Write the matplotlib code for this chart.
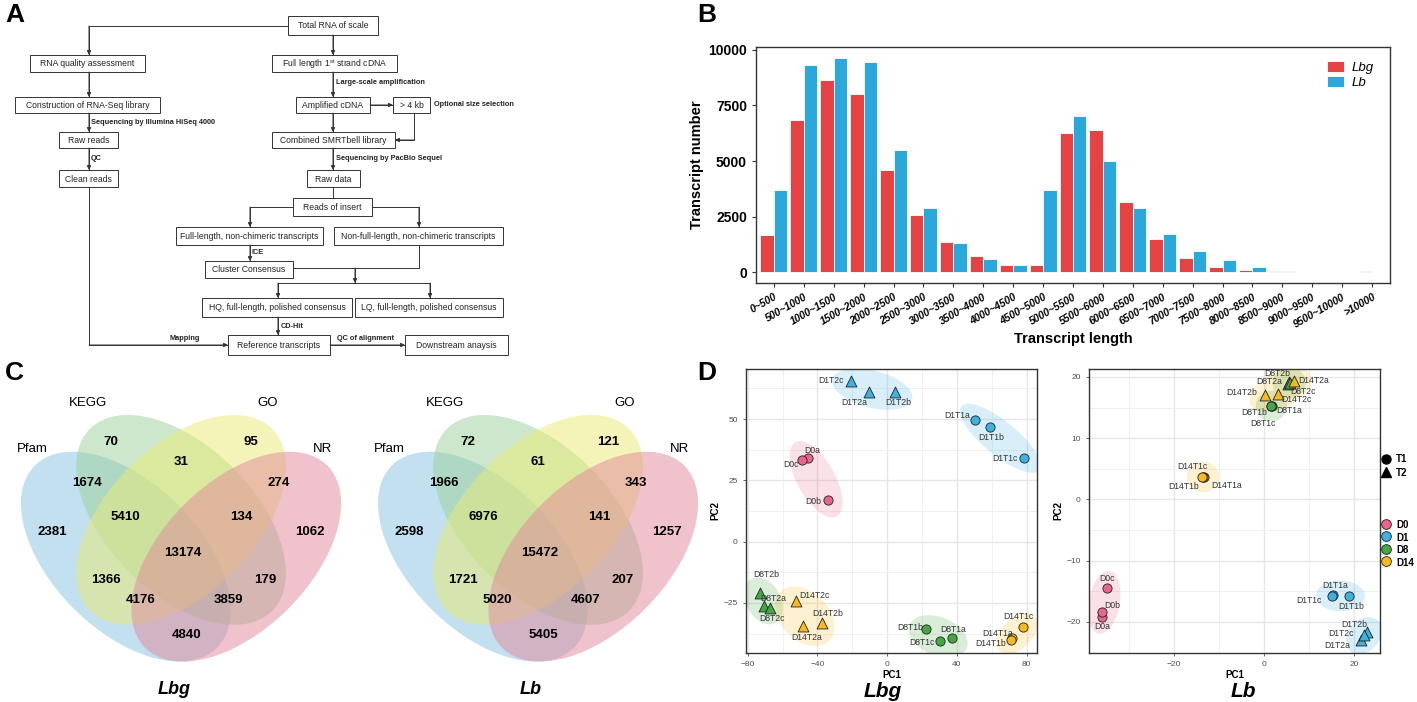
import numpy as np
import matplotlib
matplotlib.use('Agg')
import matplotlib.pyplot as plt
from matplotlib.patches import Ellipse, Rectangle, Polygon
from matplotlib.lines import Line2D

plt.rcParams['font.family'] = ['Liberation Sans', 'DejaVu Sans']
plt.rcParams['mathtext.fontset'] = 'custom'
plt.rcParams['mathtext.rm'] = 'Liberation Sans'

W, H = 1417, 702

# ---------------- B: transcript length distribution
length_bins = ['0~500', '500~1000', '1000~1500', '1500~2000', '2000~2500', '2500~3000',
               '3000~3500', '3500~4000', '4000~4500', '4500~5000', '5000~5500', '5500~6000',
               '6000~6500', '6500~7000', '7000~7500', '7500~8000', '8000~8500', '8500~9000',
               '9000~9500', '9500~10000', '>10000']
lbg_counts = [1700, 6850, 8650, 8000, 4600, 2570, 1380, 720, 350, 310, 6280, 6400,
              3180, 1520, 640, 260, 110, 50, 20, 15, 40]
lb_counts = [3720, 9300, 9620, 9470, 5480, 2880, 1300, 580, 350, 3700, 7020, 5020,
             2880, 1740, 960, 540, 230, 80, 30, 25, 30]

# ---------------- C: venn counts
venn_sets = ['Pfam', 'KEGG', 'GO', 'NR']
venn_regions = ['KEGG', 'GO', 'KEGG&GO', 'Pfam&KEGG', 'GO&NR', 'Pfam&KEGG&GO', 'KEGG&GO&NR',
                'Pfam', 'NR', 'all', 'Pfam&GO', 'KEGG&NR', 'Pfam&GO&NR', 'Pfam&KEGG&NR', 'Pfam&NR']
lbg_venn = [70, 95, 31, 1674, 274, 5410, 134, 2381, 1062, 13174, 1366, 179, 4176, 3859, 4840]
lb_venn = [72, 121, 61, 1966, 343, 6976, 141, 2598, 1257, 15472, 1721, 207, 5020, 4607, 5405]

# ---------------- D: PCA scores
samples = ['D0a', 'D0b', 'D0c', 'D1T1a', 'D1T1b', 'D1T1c', 'D1T2a', 'D1T2b', 'D1T2c',
           'D8T1a', 'D8T1b', 'D8T1c', 'D8T2a', 'D8T2b', 'D8T2c',
           'D14T1a', 'D14T1b', 'D14T1c', 'D14T2a', 'D14T2b', 'D14T2c']
lbg_pc1 = [-45.3, -34.2, -49.1, 50.7, 58.8, 78.3, -10.3, 4.5, -20.7,
           37.4, 22.5, 30.6, -70.5, -73.0, -67.5, 71.9, 71.1, 77.8, -48.4, -37.2, -52.2]
lbg_pc2 = [34.1, 16.9, 33.3, 49.6, 46.6, 34.0, 61.2, 60.9, 65.6,
           -39.4, -35.6, -40.6, -26.3, -20.9, -26.9, -39.4, -39.9, -35.0, -34.2, -33.1, -24.1]
lb_pc1 = [-36.0, -36.0, -34.9, 15.3, 18.8, 15.2, 21.6, 23.0, 22.2,
          1.8, 1.5, 1.6, 5.3, 5.6, 5.9, -13.3, -13.6, -13.8, 6.6, 0.2, 3.1]
lb_pc2 = [-19.2, -18.4, -14.5, -15.7, -15.8, -15.8, -22.9, -21.7, -22.2,
          15.3, 15.3, 15.2, 18.9, 19.1, 19.0, 3.7, 3.6, 3.7, 19.4, 17.1, 17.2]
days = ['D0', 'D1', 'D8', 'D14']
day_colors = ['#E8668B', '#3CB2E2', '#43A843', '#F7BA1E']

# label offsets in pixels (dx, dy up)
lbg_lab = {'D1T2c': (-20, 0), 'D1T2a': (-15, -11), 'D1T2b': (3, -10), 'D1T1a': (-18, 5),
           'D1T1b': (2, -10), 'D1T1c': (-19, 0), 'D0a': (4, 8), 'D0c': (-11, -5), 'D0b': (-14, -1),
           'D8T2b': (6, 18), 'D8T2a': (9, 8), 'D8T2c': (2, -11), 'D14T2c': (18, 5),
           'D14T2a': (4, -12), 'D14T2b': (5, 9), 'D8T1b': (-16, 1), 'D8T1c': (-19, -1),
           'D8T1a': (1, 9), 'D14T1c': (-4, 11), 'D14T1a': (-15, 5), 'D14T1b': (-20, -4)}
lb_lab = {'D8T2b': (-12, 9), 'D8T2a': (-19, 2), 'D14T2a': (20, 0), 'D8T2c': (13, -8),
          'D14T2b': (-23, 2), 'D14T2c': (19, -5), 'D8T1a': (17, -5), 'D8T1b': (-17, -7),
          'D8T1c': (-8, -17), 'D14T1c': (-10, 10), 'D14T1b': (-19, -9), 'D14T1a': (22, -9),
          'D0c': (0, 10), 'D0b': (10, 6), 'D0a': (0, -10), 'D1T1a': (2, 10), 'D1T1c': (-23, -4),
          'D1T1b': (3, -10), 'D1T2b': (-13, 8), 'D1T2c': (-23, 2), 'D1T2a': (-24, -6)}

fig = plt.figure(figsize=(W / 100, H / 100), dpi=100)

# ---------------- overlay axes: flowchart + panel letters
ax0 = fig.add_axes([0, 0, 1, 1])
ax0.set_xlim(0, W)
ax0.set_ylim(H, 0)
ax0.axis('off')

boxes = [
    (288, 16, 378, 35, 'Total RNA of scale'),
    (30, 55, 145, 72, 'RNA quality assessment'),
    (272, 55, 397, 72, 'Full length 1$^{\\mathrm{st}}$ strand cDNA'),
    (15, 97, 160, 113, 'Construction of RNA-Seq library'),
    (296, 97, 370, 113, 'Amplified cDNA'),
    (393, 97, 430, 113, '> 4 kb'),
    (59, 132, 118, 148, 'Raw reads'),
    (272, 132, 395, 148, 'Combined SMRTbell library'),
    (59, 170, 118, 187, 'Clean reads'),
    (307, 170, 360, 187, 'Raw data'),
    (293, 198, 372, 216, 'Reads of insert'),
    (176, 227, 323, 245, 'Full-length, non-chimeric transcripts'),
    (334, 227, 503, 245, 'Non-full-length, non-chimeric transcripts'),
    (205, 261, 293, 278, 'Cluster Consensus'),
    (202, 298, 352, 317, 'HQ, full-length, polished consensus'),
    (355, 298, 503, 317, 'LQ, full-length, polished consensus'),
    (228, 335, 330, 355, 'Reference transcripts'),
    (405, 335, 508, 355, 'Downstream anaysis'),
]
for x0, y0, x1, y1, t in boxes:
    ax0.add_patch(Rectangle((x0, y0), x1 - x0, y1 - y0, facecolor='white',
                            edgecolor='#333333', lw=0.7))
    ax0.text((x0 + x1) / 2, (y0 + y1) / 2 + 0.5, t, ha='center', va='center',
             fontsize=6.2, color='#222222')

links = [
    ([(288, 26), (89, 26), (89, 55)], True),
    ([(333, 35), (333, 55)], True),
    ([(89, 72), (89, 97)], True),
    ([(333, 72), (333, 97)], True),
    ([(89, 113), (89, 132)], True),
    ([(370, 105), (393, 105)], True),
    ([(414, 113), (414, 140), (395, 140)], True),
    ([(333, 113), (333, 132)], True),
    ([(89, 148), (89, 170)], True),
    ([(333, 148), (333, 170)], True),
    ([(333, 187), (333, 198)], False),
    ([(293, 207), (250, 207), (250, 227)], True),
    ([(372, 207), (419, 207), (419, 227)], True),
    ([(250, 245), (250, 261)], True),
    ([(293, 268), (419, 268), (419, 245)], False),
    ([(355, 268), (355, 283)], True),
    ([(278, 283), (430, 283)], False),
    ([(278, 283), (278, 298)], True),
    ([(430, 283), (430, 298)], True),
    ([(278, 317), (278, 335)], True),
    ([(89, 187), (89, 345), (228, 345)], True),
    ([(330, 345), (405, 345)], True),
]
for pts, arrow in links:
    xs = [p[0] for p in pts]
    ys = [p[1] for p in pts]
    ax0.plot(xs, ys, color='#333333', lw=0.7)
    if arrow:
        ax0.annotate('', xy=pts[-1], xytext=pts[-2],
                     arrowprops=dict(arrowstyle='-|>', color='#333333', lw=0.7,
                                     mutation_scale=6, shrinkA=0, shrinkB=0))

step_labels = [
    (336, 82, 'Large-scale amplification'),
    (91, 122, 'Sequencing by Illumina HiSeq 4000'),
    (434, 104, 'Optional size selection'),
    (91, 158, 'QC'),
    (336, 158, 'Sequencing by PacBio Sequel'),
    (252, 252, 'ICE'),
    (281, 326, 'CD-Hit'),
    (170, 339, 'Mapping'),
    (337, 339, 'QC of alignment'),
]
for x, y, t in step_labels:
    ax0.text(x, y, t, ha='left', va='center', fontsize=5.3, fontweight='bold', color='#222222')

for x, y, t in [(5, 3, 'A'), (697, 3, 'B'), (5, 361, 'C'), (697, 361, 'D')]:
    ax0.text(x, y, t, ha='left', va='top', fontsize=19, fontweight='bold')

# ---------------- B
axb = fig.add_axes([756 / W, 1 - 283 / H, 634 / W, 236 / H])
x = np.arange(len(length_bins))
bw = 0.45
axb.bar(x - bw / 2, lbg_counts, bw, color='#E64243', edgecolor='white', linewidth=0.6, label='Lbg')
axb.bar(x + bw / 2, lb_counts, bw, color='#2BA8DB', edgecolor='white', linewidth=0.6, label='Lb')
axb.set_xlim(-0.6, len(length_bins) - 0.4)
axb.set_ylim(-480, 10130)
axb.set_yticks([0, 2500, 5000, 7500, 10000])
axb.set_xticks(x)
axb.set_xticklabels(length_bins, rotation=30, ha='right', rotation_mode='anchor',
                    fontsize=7.5, fontweight='bold', fontstyle='italic')
for lab in axb.get_yticklabels():
    lab.set_fontweight('bold')
    lab.set_fontsize(10)
axb.tick_params(length=3, color='#333333', width=0.8)
for s in axb.spines.values():
    s.set_color('#333333')
    s.set_linewidth(1.0)
axb.set_ylabel('Transcript number', fontsize=10.5, fontweight='bold', labelpad=3)
axb.set_xlabel('Transcript length', fontsize=10.5, fontweight='bold', labelpad=2)
axb.legend(loc='upper right', bbox_to_anchor=(0.975, 0.94), frameon=False,
           prop=dict(style='italic', size=9.5), handlelength=1.3, handleheight=0.9,
           handletextpad=0.6, labelspacing=0.15, borderpad=0, borderaxespad=0)

# ---------------- C
ell_centers = [(0.35, 0.47), (0.5, 0.57), (0.5, 0.57), (0.65, 0.47)]
ell_angles = [-45, -45, 45, 45]
venn_colors = ['#87C3E1', '#9BD19B', '#EBEB73', '#E1879B']
region_pos = [(0.31, 0.782), (0.69, 0.782), (0.50, 0.727), (0.245, 0.67), (0.765, 0.67),
              (0.35, 0.578), (0.665, 0.578), (0.15, 0.537), (0.85, 0.537), (0.505, 0.48),
              (0.295, 0.407), (0.73, 0.407), (0.39, 0.352), (0.63, 0.352), (0.515, 0.257)]
set_label_pos = [(0.095, 0.763), (0.247, 0.888), (0.736, 0.888), (0.883, 0.763)]


def venn(left_px, counts, title):
    ax = fig.add_axes([left_px / W, 1 - 700.2 / H, 353.3 / W, 338.6 / H])
    ax.set_xlim(0.02, 0.98)
    ax.set_ylim(0.08, 1.0)
    ax.axis('off')
    for c, ang, col in zip(ell_centers, ell_angles, venn_colors):
        ax.add_patch(Ellipse(c, 0.70, 0.40, angle=ang, facecolor=col, alpha=0.5, lw=0))
    for (px, py), n in zip(region_pos, counts):
        ax.text(px, py, str(n), ha='center', va='center', fontsize=9.5, fontweight='bold')
    for (px, py), s in zip(set_label_pos, venn_sets):
        ax.text(px, py, s, ha='center', va='center', fontsize=9.5)
    ax.text(0.48, 0.108, title, ha='center', va='center', fontsize=13,
            fontweight='bold', fontstyle='italic')


venn(4.4, lbg_venn, 'Lbg')
venn(361.4, lb_venn, 'Lb')

# ---------------- D


def mark_ellipse(ax, xs, ys, color, pad=15):
    pts = ax.transData.transform(np.column_stack([xs, ys]))
    m = pts.mean(axis=0)
    d = pts - m
    vals, vecs = np.linalg.eigh(np.cov(d.T))
    e1 = vecs[:, 1]
    e2 = vecs[:, 0]
    u = d @ e1
    v = d @ e2
    cen = m + (u.min() + u.max()) / 2 * e1 + (v.min() + v.max()) / 2 * e2
    a = (u.max() - u.min()) / 2 * 1.15 + pad
    b = (v.max() - v.min()) / 2 * 1.15 + pad
    t = np.linspace(0, 2 * np.pi, 100)
    ring = cen + np.outer(a * np.cos(t), e1) + np.outer(b * np.sin(t), e2)
    ring = ax.transData.inverted().transform(ring)
    ax.add_patch(Polygon(ring, closed=True, facecolor=color, alpha=0.2, lw=0, zorder=1))


def pca_panel(left_px, pc1, pc2, offsets, xlim, ylim, xticks, yticks, xminor, yminor, title, tx):
    ax = fig.add_axes([left_px / W, 1 - 653 / H, 291 / W, 284 / H])
    ax.set_xlim(xlim)
    ax.set_ylim(ylim)
    ax.set_xticks(xticks)
    ax.set_yticks(yticks)
    ax.set_xticks(xminor, minor=True)
    ax.set_yticks(yminor, minor=True)
    ax.grid(which='major', color='#E6E6E6', lw=1.0)
    ax.grid(which='minor', color='#EEEEEE', lw=0.6)
    ax.set_axisbelow(True)
    ax.tick_params(which='major', labelsize=6, colors='#4D4D4D', length=2.5, width=0.6)
    ax.tick_params(which='minor', length=0)
    for s in ax.spines.values():
        s.set_color('#333333')
        s.set_linewidth(1.0)
    ax.set_xlabel('PC1', fontsize=7, fontweight='bold', labelpad=1)
    ax.set_ylabel('PC2', fontsize=7, fontweight='bold', labelpad=2)

    groups = [s[:-1] for s in samples]
    for g in dict.fromkeys(groups):
        idx = [i for i, gg in enumerate(groups) if gg == g]
        col = day_colors[days.index(g.split('T')[0])]
        mark_ellipse(ax, [pc1[i] for i in idx], [pc2[i] for i in idx], col)
    for i, s in enumerate(samples):
        col = day_colors[days.index(groups[i].split('T')[0])]
        tri = 'T2' in s
        ax.scatter(pc1[i], pc2[i], s=62 if tri else 44, marker='^' if tri else 'o',
                   facecolor=col, edgecolor='#222222', linewidth=0.6, zorder=3)
        dx, dy = offsets[s]
        ax.annotate(s, (pc1[i], pc2[i]), xytext=(dx * 0.72, dy * 0.72), textcoords='offset points',
                    ha='center', va='center', fontsize=6.2, color='#333333', zorder=4)
    ax.text(tx, -0.137, title, transform=ax.transAxes, ha='center', va='center',
            fontsize=15, fontweight='bold', fontstyle='italic')
    return ax


pca_panel(746, lbg_pc1, lbg_pc2, lbg_lab, (-81, 86), (-45.4, 70.4),
          [-80, -40, 0, 40, 80], [-25, 0, 25, 50], [-60, -20, 20, 60],
          [-37.5, -12.5, 12.5, 37.5, 62.5], 'Lbg', 0.469)
axl = pca_panel(1089, lb_pc1, lb_pc2, lb_lab, (-38.9, 25.8), (-25.1, 21.3),
                [-20, 0, 20], [-20, -10, 0, 10, 20], [-30, -10, 10],
                [-15, -5, 5, 15], 'Lb', 0.531)

shape_handles = [Line2D([], [], marker='o', color='black', ls='', ms=6.5),
                 Line2D([], [], marker='^', color='black', ls='', ms=7)]
leg1 = axl.legend(shape_handles, ['T1', 'T2'], loc='upper left', bbox_to_anchor=(1.005, 0.70),
                  frameon=False, handlelength=1.0, handletextpad=0.5, labelspacing=0.35,
                  borderpad=0, borderaxespad=0, prop=dict(size=7, weight='bold'))
axl.add_artist(leg1)
col_handles = [(Rectangle((0, 0), 1, 1, facecolor=c, alpha=0.2, lw=0),
                Line2D([], [], marker='o', mfc=c, mec='#222222', mew=0.6, ls='', ms=7))
               for c in day_colors]
axl.legend(col_handles, days, loc='upper left', bbox_to_anchor=(1.005, 0.47),
           frameon=False, handlelength=1.0, handleheight=1.3, handletextpad=0.5,
           labelspacing=0.2, borderpad=0, borderaxespad=0, prop=dict(size=7, weight='bold'))

fig.savefig('out.png', dpi=100)
